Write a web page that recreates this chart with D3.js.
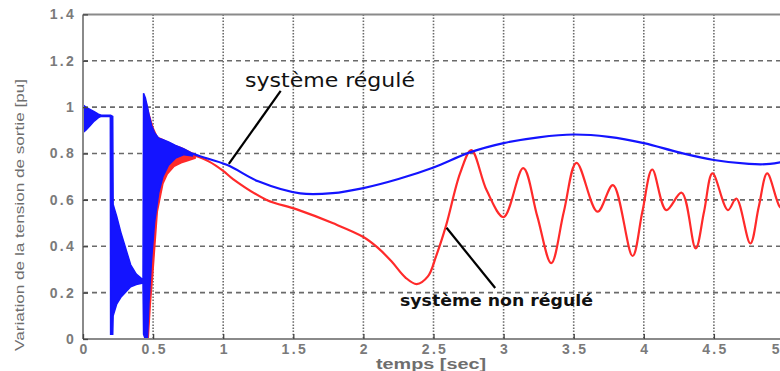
<!DOCTYPE html>
<html><head><meta charset="utf-8">
<script src="https://cdn.jsdelivr.net/npm/d3@7"></script>
<style>
html,body{margin:0;padding:0;background:#fff;overflow:hidden;}
svg{display:block;}
</style></head>
<body>
<svg id="chart" width="780" height="371"></svg>
<script>
// ---- data ----
const xTicks = [0, 0.5, 1, 1.5, 2, 2.5, 3, 3.5, 4, 4.5, 5];
const xTickLabels = ["0", "0.5", "1", "1.5", "2", "2.5", "3", "3.5", "4", "4.5", "5"];
const yTicks = [0, 0.2, 0.4, 0.6, 0.8, 1, 1.2, 1.4];
const yTickLabels = ["0", "0.2", "0.4", "0.6", "0.8", "1", "1.2", "1.4"];
const xTitle = "temps [sec]";
const yTitle = "Variation de la tension de sortie [pu]";
const labelRegule = "système régulé";
const labelNonRegule = "système non régulé";

// envelope of the fast oscillation (blue, regulated) during the transient
const blueEnvT  = [0, 0.02, 0.05, 0.08, 0.11, 0.13, 0.195, 0.197, 0.212, 0.215, 0.24, 0.27, 0.30, 0.34, 0.38, 0.42, 0.428, 0.432, 0.445, 0.46, 0.47, 0.49, 0.51, 0.54, 0.57, 0.61, 0.66, 0.72, 0.78];
const blueEnvHi = [1.01, 1.0, 0.99, 0.98, 0.97, 0.965, 0.965, 0.965, 0.96, 0.58, 0.53, 0.46, 0.40, 0.32, 0.28, 0.26, 0.26, 1.06, 1.04, 1.0, 0.97, 0.92, 0.89, 0.866, 0.86, 0.85, 0.835, 0.82, 0.80];
const blueEnvLo = [0.89, 0.90, 0.92, 0.94, 0.955, 0.96, 0.96, 0.02, 0.02, 0.10, 0.15, 0.18, 0.20, 0.225, 0.235, 0.24, 0.24, 0.02, 0.0, 0.0, 0.15, 0.35, 0.50, 0.63, 0.70, 0.75, 0.78, 0.795, 0.79];

// envelope of the red (non regulated) transient
const redEnvT  = [0.44, 0.45, 0.465, 0.48, 0.50, 0.53, 0.57, 0.60, 0.65, 0.70, 0.75, 0.80];
const redEnvHi = [1.03, 1.02, 0.98, 0.95, 0.91, 0.87, 0.86, 0.85, 0.835, 0.825, 0.81, 0.795];
const redEnvLo = [0.0, 0.0, 0.0, 0.15, 0.30, 0.55, 0.67, 0.71, 0.745, 0.76, 0.77, 0.78];

// smooth part of the regulated system
const blueT = [0.78, 0.83, 1.03, 1.25, 1.55, 1.78, 2.0, 2.25, 2.5, 2.76, 3.0, 3.25, 3.5, 3.75, 4.0, 4.25, 4.5, 4.75, 4.9, 5.0];
const blueV = [0.80, 0.789, 0.75, 0.68, 0.628, 0.629, 0.651, 0.69, 0.74, 0.805, 0.845, 0.87, 0.882, 0.872, 0.845, 0.805, 0.772, 0.755, 0.755, 0.765];

// smooth part of the non regulated system
const redT = [0.80, 0.90, 1.0, 1.07, 1.31, 1.52, 1.78, 2.0, 2.1, 2.2, 2.3, 2.38, 2.46, 2.52, 2.59, 2.69, 2.77, 2.88, 3.0, 3.14, 3.24, 3.34, 3.43, 3.52, 3.67, 3.78, 3.92, 3.99, 4.06, 4.16, 4.27, 4.37, 4.43, 4.49, 4.60, 4.66, 4.76, 4.82, 4.88, 4.97, 5.0];
const redV = [0.79, 0.765, 0.725, 0.69, 0.60, 0.56, 0.50, 0.44, 0.395, 0.335, 0.265, 0.237, 0.27, 0.36, 0.49, 0.715, 0.815, 0.64, 0.526, 0.737, 0.53, 0.327, 0.55, 0.76, 0.549, 0.664, 0.358, 0.55, 0.731, 0.556, 0.631, 0.391, 0.55, 0.714, 0.556, 0.606, 0.412, 0.57, 0.714, 0.57, 0.56];

// ---- drawing ----
const svg = d3.select("#chart");
const L = 83, R = 784, T = 14.4, B = 339;
const x = d3.scaleLinear().domain([0, 5]).range([L, R]);
const y = d3.scaleLinear().domain([0, 1.4]).range([B, T]);

svg.append("defs").append("clipPath").attr("id", "clip")
  .append("rect").attr("x", L).attr("y", T).attr("width", R - L).attr("height", B - T);

const gridCol = "#6a6a6a";
// horizontal dashed grid
svg.append("g").selectAll("line").data(yTicks.filter(v => v > 0 && v < 1.4)).join("line")
  .attr("x1", L).attr("x2", R).attr("y1", d => y(d)).attr("y2", d => y(d))
  .attr("stroke", gridCol).attr("stroke-width", 1.6).attr("stroke-dasharray", "5,4");
// vertical dotted grid
svg.append("g").selectAll("line").data(xTicks.filter(v => v > 0)).join("line")
  .attr("x1", d => x(d)).attr("x2", d => x(d)).attr("y1", T).attr("y2", B)
  .attr("stroke", gridCol).attr("stroke-width", 1.6).attr("stroke-dasharray", "1.5,1.6");

const plot = svg.append("g").attr("clip-path", "url(#clip)");
const redCol = "#ff2a2a", blueCol = "#1414ff";

const area = (tt, hi, lo) => d3.area().x((d, i) => x(tt[i])).y0((d, i) => y(lo[i])).y1((d, i) => y(hi[i]))(tt);
const line = (tt, vv) => d3.line().x((d, i) => x(tt[i])).y((d, i) => y(vv[i])).curve(d3.curveCatmullRom.alpha(0.5))(tt);

// red first
plot.append("path").attr("d", area(redEnvT, redEnvHi, redEnvLo))
  .attr("fill", redCol).attr("stroke", redCol).attr("stroke-width", 1.5);
plot.append("path").attr("d", line(redT, redV))
  .attr("fill", "none").attr("stroke", redCol).attr("stroke-width", 2.2);
// blue on top
plot.append("path").attr("d", area(blueEnvT, blueEnvHi, blueEnvLo))
  .attr("fill", blueCol).attr("stroke", blueCol).attr("stroke-width", 1.5);
plot.append("path").attr("d", line(blueT, blueV))
  .attr("fill", "none").attr("stroke", blueCol).attr("stroke-width", 2.2);

// axes frame
const axCol = "#8a8a8a";
svg.append("line").attr("x1", L).attr("x2", L).attr("y1", T).attr("y2", B).attr("stroke", axCol).attr("stroke-width", 2);
svg.append("line").attr("x1", L).attr("x2", R).attr("y1", B).attr("y2", B).attr("stroke", axCol).attr("stroke-width", 2);
svg.append("line").attr("x1", L).attr("x2", R).attr("y1", T).attr("y2", T).attr("stroke", axCol).attr("stroke-width", 2);

// tick marks + labels via d3 axes
const xAxis = d3.axisBottom(x).tickValues(xTicks).tickSize(-5).tickPadding(7)
  .tickFormat((d, i) => xTickLabels[i]);
const gx = svg.append("g").attr("transform", `translate(0,${B})`).call(xAxis);
const yAxis = d3.axisLeft(y).tickValues(yTicks).tickSize(-5).tickPadding(9)
  .tickFormat((d, i) => yTickLabels[i]);
const gy = svg.append("g").attr("transform", `translate(${L},0)`).call(yAxis);
[gx, gy].forEach(g => {
  g.select(".domain").remove();
  g.selectAll(".tick line").attr("stroke", "#444").attr("stroke-width", 1.3);
  g.selectAll(".tick text").attr("fill", "#7a7a7a")
    .style("font-family", "'Liberation Sans', Arial, sans-serif")
    .style("font-size", "14px").style("font-weight", "bold").style("letter-spacing", "2.3px");
});
gx.selectAll(".tick text").attr("dy", "0.6em").attr("dx", "1px");
gy.selectAll(".tick text").attr("dx", "2px");
// last x label sits at the window edge: keep it inside
gx.selectAll(".tick text").filter(d => d === 5).attr("text-anchor", "end").attr("x", -5).attr("dx", 0).style("letter-spacing", "0px");

// axis titles
svg.append("text").attr("x", 431).attr("y", 369).attr("text-anchor", "middle")
  .attr("fill", "#6e6e6e").style("font-family", "'Liberation Sans', Arial, sans-serif")
  .style("font-size", "14px").style("font-weight", "bold")
  .attr("textLength", 110).attr("lengthAdjust", "spacingAndGlyphs")
  .text(xTitle);
svg.append("text").attr("transform", "translate(24,215) rotate(-90)").attr("text-anchor", "middle")
  .attr("fill", "#6e6e6e").style("font-family", "'Liberation Sans Narrow', 'Liberation Sans', Arial, sans-serif")
  .style("font-size", "13px").attr("textLength", 272).attr("lengthAdjust", "spacingAndGlyphs")
  .text(yTitle);

// annotations
svg.append("line").attr("x1", x(1.41)).attr("y1", y(1.07)).attr("x2", x(1.04)).attr("y2", y(0.755))
  .attr("stroke", "#000").attr("stroke-width", 2.2);
svg.append("text").attr("x", 245).attr("y", 87)
  .attr("fill", "#111").style("font-family", "'DejaVu Sans', sans-serif").style("font-size", "19px")
  .attr("textLength", 170).attr("lengthAdjust", "spacingAndGlyphs").text(labelRegule);
svg.append("line").attr("x1", x(2.593)).attr("y1", y(0.48)).attr("x2", x(2.94)).attr("y2", y(0.22))
  .attr("stroke", "#000").attr("stroke-width", 2.2);
svg.append("text").attr("x", 400).attr("y", 306)
  .attr("fill", "#111").style("font-family", "'DejaVu Sans', sans-serif").style("font-size", "15px").style("font-weight", "bold")
  .attr("textLength", 193).attr("lengthAdjust", "spacingAndGlyphs").text(labelNonRegule);
</script>
</body></html>
